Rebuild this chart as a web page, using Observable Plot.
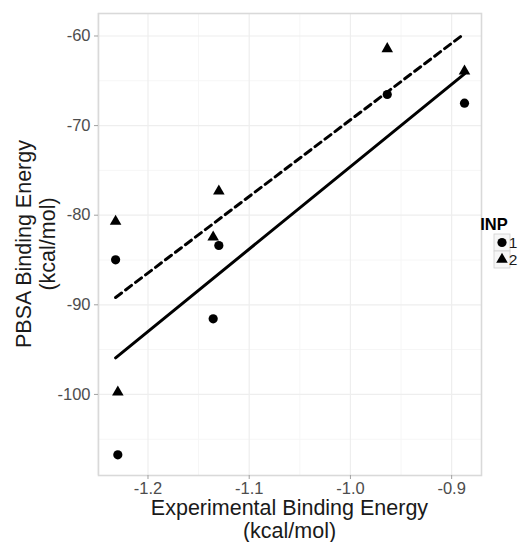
<!DOCTYPE html>
<html><head><meta charset="utf-8">
<script src="https://cdn.jsdelivr.net/npm/d3@7"></script>
<script src="https://cdn.jsdelivr.net/npm/@observablehq/plot@0.6"></script>
<style>
body{margin:0;background:#fff;}
#chart svg{font-family:"Liberation Sans",Arial,Helvetica,sans-serif;background:#fff;}
</style>
</head><body><div id="chart"></div>
<script>
// INP = 1 (circles)
const inp1X = [-1.2320, -1.2298, -1.1356, -1.1300, -0.9636, -0.8873];
const inp1Y = [-84.98, -106.74, -91.56, -83.38, -66.53, -67.50];
// INP = 2 (triangles)
const inp2X = [-1.2320, -1.2298, -1.1356, -1.1300, -0.9636, -0.8873];
const inp2Y = [-80.70, -99.75, -82.45, -77.32, -61.43, -63.93];
const seriesNames = ["1", "2"];
const xTicks = [-1.2, -1.1, -1.0, -0.9];
const xMinor = [-1.25, -1.15, -1.05, -0.95];
const yTicks = [-60, -70, -80, -90, -100];
const yMinor = [-65, -75, -85, -95, -105];
const xTitle = ["Experimental Binding Energy", "(kcal/mol)"];
const yTitle = ["PBSA Binding Energy", "(kcal/mol)"];
const legendTitle = "INP";

const rows = [
  ...inp1X.map((x, i) => ({x, y: inp1Y[i], inp: seriesNames[0]})),
  ...inp2X.map((x, i) => ({x, y: inp2Y[i], inp: seriesNames[1]}))
];
const s1 = rows.filter(d => d.inp === seriesNames[0]);
const s2 = rows.filter(d => d.inp === seriesNames[1]);

const W = 527, H = 542;
const mL = 98, mR = 46, mT = 13, mB = 67;

const chart = Plot.plot({
  width: W, height: H,
  marginLeft: mL, marginRight: mR, marginTop: mT, marginBottom: mB,
  x: {domain: [-1.2489, -0.8705]},
  y: {domain: [-109.05, -57.49]},
  style: {fontFamily: "Liberation Sans, Arial, sans-serif", background: "#fff"},
  marks: [
    Plot.ruleX(xMinor, {stroke: "#f6f6f6", strokeWidth: 1}),
    Plot.ruleY(yMinor, {stroke: "#f6f6f6", strokeWidth: 1}),
    Plot.ruleX(xTicks, {stroke: "#eeeeee", strokeWidth: 1.2}),
    Plot.ruleY(yTicks, {stroke: "#eeeeee", strokeWidth: 1.2}),
    Plot.frame({stroke: "#d9d9d9", strokeWidth: 1.6}),
    Plot.axisX({ticks: xTicks, tickFormat: d => d.toFixed(1), tickSize: 4, tickPadding: 3,
      stroke: "#a0a0a0", fill: "#4d4d4d", fontSize: 16.5, label: null}),
    Plot.axisY({ticks: yTicks, tickFormat: d => String(d), tickSize: 4, tickPadding: 4,
      stroke: "#a0a0a0", fill: "#4d4d4d", fontSize: 16.5, label: null}),
    Plot.linearRegressionY(s1, {x: "x", y: "y", stroke: "#000", strokeWidth: 3, ci: 0}),
    Plot.linearRegressionY(s2, {x: "x", y: "y", stroke: "#000", strokeWidth: 3, strokeDasharray: "7.5,5", ci: 0}),
    Plot.dot(s1, {x: "x", y: "y", symbol: "circle", fill: "#000", r: 4.6}),
    Plot.dot(s2, {x: "x", y: "y", symbol: "triangle", fill: "#000", r: 4.3})
  ]
});

document.getElementById("chart").appendChild(chart);
const svg = d3.select(chart);
const cx = mL + (W - mL - mR) / 2;
const cy = mT + (H - mT - mB) / 2;

// x-axis title
const xt = svg.append("text").attr("text-anchor", "middle").attr("font-size", 21.5).attr("fill", "#1a1a1a");
xTitle.forEach((t, i) => xt.append("tspan").attr("x", cx).attr("y", 515 + i * 23).text(t));

// y-axis title
const yt = svg.append("text").attr("text-anchor", "middle").attr("font-size", 21.5).attr("fill", "#1a1a1a")
  .attr("transform", `translate(0,${cy}) rotate(-90)`);
yTitle.forEach((t, i) => yt.append("tspan").attr("x", 0).attr("y", 31 + i * 24).text(t));

// legend
const lg = svg.append("g");
lg.append("text").attr("x", 494).attr("y", 230).attr("font-size", 16.5).attr("font-weight", "bold")
  .attr("fill", "#000").text(legendTitle);
const sym = [d3.symbolCircle, d3.symbolTriangle];
const keyH = 17;
seriesNames.forEach((name, i) => {
  const top = 234 + i * keyH;
  lg.append("rect").attr("x", 494).attr("y", top).attr("width", 16).attr("height", keyH)
    .attr("fill", "#f7f7f7").attr("stroke", "#d0d0d0").attr("stroke-width", 0.8);
  lg.append("path").attr("transform", `translate(502,${top + keyH / 2})`)
    .attr("d", d3.symbol(sym[i], i === 0 ? Math.PI * 4.6 * 4.6 : Math.PI * 4.3 * 4.3)()).attr("fill", "#000");
  lg.append("text").attr("x", 513).attr("y", top + keyH / 2).attr("dy", "0.36em")
    .attr("font-size", 15.5).attr("fill", "#1a1a1a").text(name);
});
</script>
</body></html>
